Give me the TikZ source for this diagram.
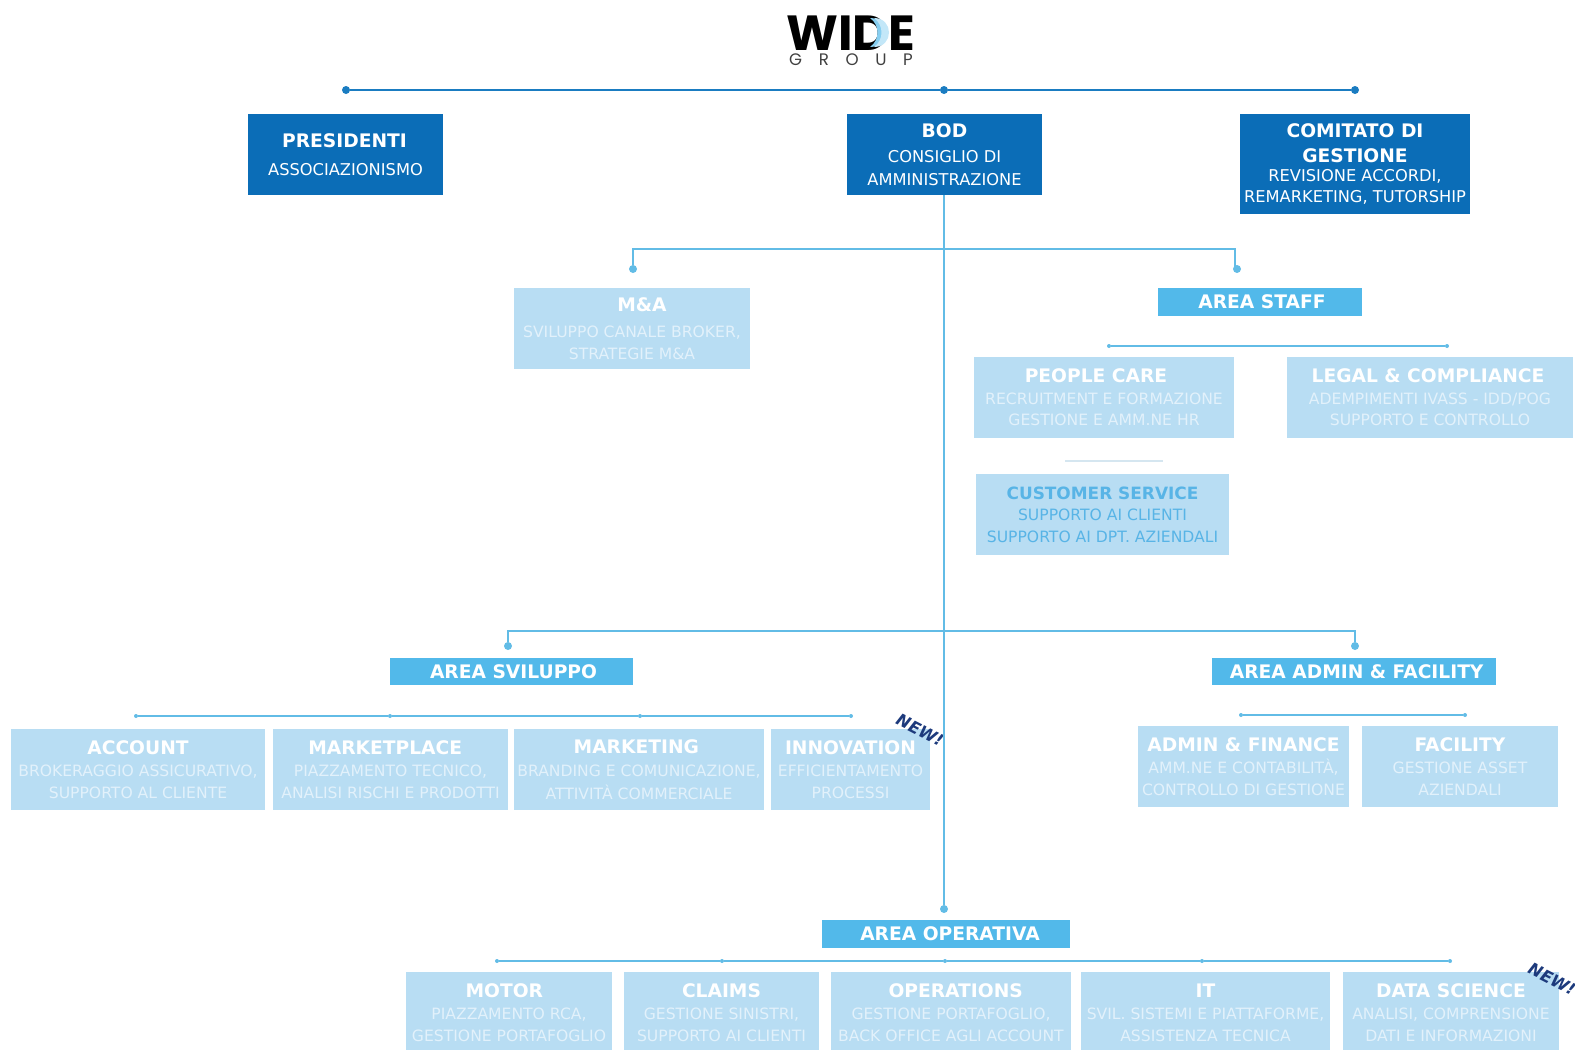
\documentclass[tikz,border=0pt]{standalone}
\usepackage{fontspec}
\setmainfont{DejaVu Sans}
\newfontfamily\logofont{Poppins}
\definecolor{darkblue}{HTML}{0B6DB7}
\definecolor{midblue}{HTML}{52B9EA}
\definecolor{paleblue}{HTML}{B8DDF3}
\definecolor{linedark}{HTML}{1A7CC1}
\definecolor{linemid}{HTML}{62BCE6}
\definecolor{linepale}{HTML}{D5E6F0}
\definecolor{newblue}{HTML}{1D3A7C}
\definecolor{custtext}{HTML}{58B4E6}
\definecolor{subpale}{HTML}{E2F1FB}
\newcommand\orgbox[7]{%
  \pgfmathsetmacro\bw{(#5-#3)*0.75}\pgfmathsetmacro\bh{(#6-#4)*0.75}%
  \node[#2,minimum width=\bw pt,minimum height=\bh pt] (#1) at ({(#3+#5)/2},{(#4+#6)/2}) {#7};}
\newcommand\ttl[2][0]{{\fontsize{14}{16}\selectfont\bfseries\hspace*{#1pt}#2}}
\newcommand\ttc[1]{{\fontsize{12.7}{16}\selectfont\bfseries #1}}
\newcommand\subt[1]{{\fontsize{12.2}{16}\selectfont #1}}
\newcommand\subl[1]{{\fontsize{11.7}{16}\selectfont\color{subpale} #1}}
\newcommand\subc[1]{{\fontsize{11.7}{16}\selectfont #1}}
\tikzset{
  x=0.75pt,y=-0.75pt,
  boxbase/.style={inner sep=0pt,outer sep=0pt,align=center,text=white},
  topbox/.style={boxbase,fill=darkblue},
  areabox/.style={boxbase,fill=midblue},
  subbox/.style={boxbase,fill=paleblue},
  custbox/.style={boxbase,fill=paleblue,text=custtext},
  dotdark/.style={circle,fill=linedark,inner sep=0pt,minimum size=6pt},
  dotmid/.style={circle,fill=linemid,inner sep=0pt,minimum size=6pt},
  dotsmall/.style={circle,fill=linemid,inner sep=0pt,minimum size=3pt},
  darkline/.style={draw=linedark,line width=1.2pt},
  midline/.style={draw=linemid,line width=1.2pt},
  newtag/.style={text=newblue,font=\fontsize{12.3}{14}\selectfont\bfseries\itshape,rotate=-27,inner sep=0pt},
}
\begin{document}
\begin{tikzpicture}
\useasboundingbox (0,0) rectangle (1575,1050);
% logo
\node[inner sep=0pt,font=\logofont\fontsize{37}{38}\selectfont\bfseries] (logo) at (851,33) {WIDE};
\fill[midblue!70] (870,18) .. controls (890,18) and (890,47) .. (870,47) .. controls (880,40) and (880,25) .. (870,18);
\fill[midblue!35] (874,18) .. controls (894,18) and (894,47) .. (874,47) .. controls (884,40) and (884,25) .. (874,18);
\node[inner sep=0pt,font=\logofont\fontsize{12.5}{14}\selectfont,text=black!75] (logosub) at (851,60) {G\hspace{1em}R\hspace{1em}O\hspace{1em}U\hspace{1em}P};
% boxes
\orgbox{pres}{topbox}{248}{114}{443}{195}{\ttl[-1.5]{PRESIDENTI}\\[9.25pt]\subt{ASSOCIAZIONISMO}}
\orgbox{bod}{topbox}{847}{114}{1042}{195}{\ttl{BOD}\\[6.75pt]\subt{CONSIGLIO DI}\\[5pt]\subt{AMMINISTRAZIONE}}
\orgbox{com}{topbox}{1240}{114}{1470}{214}{\ttl{COMITATO DI}\\[6.5pt]\ttl{GESTIONE}\\[2.25pt]\subt{REVISIONE ACCORDI,}\\[3.5pt]\subt{REMARKETING, TUTORSHIP}}
\orgbox{ma}{subbox}{514}{288}{750}{369}{\ttl[15]{M\&A}\\[8pt]\subl{SVILUPPO CANALE BROKER,}\\[4.25pt]\subl{STRATEGIE M\&A}}
\orgbox{staff}{areabox}{1158}{288}{1362}{316}{\ttl[3]{AREA STAFF}}
\orgbox{people}{subbox}{974}{357}{1234}{438}{\ttl[-12]{PEOPLE CARE}\\[4pt]\subl{RECRUITMENT E FORMAZIONE}\\[4.25pt]\subl{GESTIONE E AMM.NE HR}}
\orgbox{legal}{subbox}{1287}{357}{1573}{438}{\ttl[-3]{LEGAL \& COMPLIANCE}\\[4pt]\subl{ADEMPIMENTI IVASS - IDD/POG}\\[4.25pt]\subl{SUPPORTO E CONTROLLO}}
\orgbox{cust}{custbox}{976}{474}{1229}{555}{\ttc{CUSTOMER SERVICE}\\[4pt]\subc{SUPPORTO AI CLIENTI}\\[4.25pt]\subc{SUPPORTO AI DPT. AZIENDALI}}
\orgbox{svil}{areabox}{390}{658}{633}{685}{\ttl[3]{AREA SVILUPPO}}
\orgbox{admin}{areabox}{1212}{658}{1496}{685}{\ttl[4]{AREA ADMIN \& FACILITY}}
\orgbox{account}{subbox}{11}{729}{265}{810}{\ttl{ACCOUNT}\\[5pt]\subl{BROKERAGGIO ASSICURATIVO,}\\[4.25pt]\subl{SUPPORTO AL CLIENTE}}
\orgbox{mplace}{subbox}{273}{729}{508}{810}{\ttl[-8]{MARKETPLACE}\\[5pt]\subl{PIAZZAMENTO TECNICO,}\\[4.25pt]\subl{ANALISI RISCHI E PRODOTTI}}
\orgbox{mkt}{subbox}{514}{729}{764}{810}{\ttl[-4]{MARKETING}\\[5pt]\subl{BRANDING E COMUNICAZIONE,}\\[4.25pt]\subl{ATTIVITÀ COMMERCIALE}}
\orgbox{innov}{subbox}{771}{729}{930}{810}{\ttl{INNOVATION}\\[5pt]\subl{EFFICIENTAMENTO}\\[4.25pt]\subl{PROCESSI}}
\orgbox{afin}{subbox}{1138}{726}{1349}{807}{\ttl{ADMIN \& FINANCE}\\[5pt]\subl{AMM.NE E CONTABILITÀ,}\\[4.25pt]\subl{CONTROLLO DI GESTIONE}}
\orgbox{facil}{subbox}{1362}{726}{1558}{807}{\ttl{FACILITY}\\[5pt]\subl{GESTIONE ASSET}\\[4.25pt]\subl{AZIENDALI}}
\orgbox{oper}{areabox}{822}{920}{1070}{948}{\ttl[6]{AREA OPERATIVA}}
\orgbox{motor}{subbox}{406}{972}{612}{1053}{\ttl[-7]{MOTOR}\\[5pt]\subl{PIAZZAMENTO RCA,}\\[4.25pt]\subl{GESTIONE PORTAFOGLIO}}
\orgbox{claims}{subbox}{624}{972}{819}{1053}{\ttl{CLAIMS}\\[5pt]\subl{GESTIONE SINISTRI,}\\[4.25pt]\subl{SUPPORTO AI CLIENTI}}
\orgbox{ops}{subbox}{831}{972}{1071}{1053}{\ttl[7]{OPERATIONS}\\[5pt]\subl{GESTIONE PORTAFOGLIO,}\\[4.25pt]\subl{BACK OFFICE AGLI ACCOUNT}}
\orgbox{it}{subbox}{1081}{972}{1330}{1053}{\ttl{IT}\\[5pt]\subl{SVIL. SISTEMI E PIATTAFORME,}\\[4.25pt]\subl{ASSISTENZA TECNICA}}
\orgbox{data}{subbox}{1343}{972}{1559}{1053}{\ttl{DATA SCIENCE}\\[5pt]\subl{ANALISI, COMPRENSIONE}\\[4.25pt]\subl{DATI E INFORMAZIONI}}
\node[newtag] (new1) at (920,730) {NEW!};
\node[newtag] (new2) at (1552,979) {NEW!};
% junctions
\node[dotdark] (t1) at (346,90) {};
\node[dotdark] (t2) at (944,90) {};
\node[dotdark] (t3) at (1355,90) {};
\coordinate (j1) at (944,249);
\coordinate (ma1) at (633,249);
\coordinate (st1) at (1235,249);
\node[dotmid] (ma2) at (633,269) {};
\node[dotmid] (st2) at (1237,269) {};
\node[dotsmall] (s1) at (1109,346) {};
\node[dotsmall] (s2) at (1447,346) {};
\coordinate (c1) at (1065,461);
\coordinate (c2) at (1163,461);
\coordinate (j2) at (944,631);
\coordinate (sv1) at (508,631);
\coordinate (ad1) at (1355,631);
\node[dotmid] (sv2) at (508,646) {};
\node[dotmid] (ad2) at (1355,646) {};
\node[dotsmall] (a1) at (136,716) {};
\node[dotsmall] (a2) at (390,716) {};
\node[dotsmall] (a3) at (640,716) {};
\node[dotsmall] (a4) at (851,716) {};
\node[dotsmall] (f1) at (1241,715) {};
\node[dotsmall] (f2) at (1465,715) {};
\node[dotmid] (opd) at (944,909) {};
\node[dotsmall] (o1) at (497,961) {};
\node[dotsmall] (o2) at (722,961) {};
\node[dotsmall] (o3) at (945,961) {};
\node[dotsmall] (o4) at (1202,961) {};
\node[dotsmall] (o5) at (1450,961) {};
% connectors
\draw[darkline] (t1) -- (t2) -- (t3);
\draw[midline] (bod.south -| opd) -- (opd);
\draw[midline] (ma2) -- (ma1) -- (j1) -- (st1) -- (st1 |- st2);
\draw[midline] (s1) -- (s2);
\draw[draw=linepale,line width=1.2pt] (c1) -- (c2);
\draw[midline] (sv2) -- (sv1) -- (j2) -- (ad1) -- (ad2);
\draw[midline] (a1) -- (a2) -- (a3) -- (a4);
\draw[midline] (f1) -- (f2);
\draw[midline] (o1) -- (o2) -- (o3) -- (o4) -- (o5);
\end{tikzpicture}
\end{document}
